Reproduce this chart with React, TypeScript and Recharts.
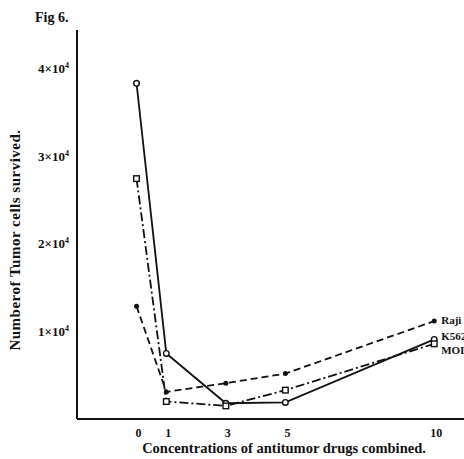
import React from "react";
import { LineChart, Line, XAxis, YAxis, LabelList } from "recharts";

const concentrations = [0, 1, 3, 5, 10];
const raji = [1.29, 0.31, 0.41, 0.52, 1.12];
const k562 = [3.84, 0.75, 0.18, 0.19, 0.91];
const molt4 = [2.75, 0.2, 0.15, 0.33, 0.86];
const xTicks = [0, 1, 3, 5, 10];
const yTicks = [1, 2, 3, 4];
const seriesNames = ["Raji", "K562", "MOLT-4"];

const data = concentrations.map((c, i) => ({ x: c, raji: raji[i], k562: k562[i], molt4: molt4[i] }));

const FONT = "'Liberation Serif', 'DejaVu Serif', serif";
const INK = "#111";

const XTick = (props: any) => {
  const { x, y, payload } = props;
  return (
    <text x={x + 2} y={y + 18} textAnchor="middle" fontFamily={FONT} fontWeight="bold" fontSize={12} fill={INK}>
      {payload.value}
    </text>
  );
};

const YTick = (props: any) => {
  const { x, y, payload } = props;
  return (
    <text x={x - 8} y={y + 4} textAnchor="end" fontFamily={FONT} fontWeight="bold" fontSize={13} fill={INK}>
      {`${payload.value}×10`}
      <tspan fontSize={8} dy={-5}>4</tspan>
    </text>
  );
};

const makeEndLabel = (name: string, dy: number) => (props: any) => {
  const { x, y, index } = props;
  if (index !== concentrations.length - 1) return null;
  return (
    <text x={Number(x) + 7} y={Number(y) + dy} fontFamily={FONT} fontWeight="bold" fontSize={11} fill={INK}>
      {name}
    </text>
  );
};

const FilledDot = (props: any) => {
  const { cx, cy } = props;
  return <circle cx={cx} cy={cy} r={2.5} fill={INK} stroke="none" />;
};
const OpenCircle = (props: any) => {
  const { cx, cy } = props;
  return <circle cx={cx} cy={cy} r={2.8} fill="#fff" stroke={INK} strokeWidth={1.4} />;
};
const OpenSquare = (props: any) => {
  const { cx, cy } = props;
  return <rect x={cx - 2.8} y={cy - 2.8} width={5.6} height={5.6} fill="#fff" stroke={INK} strokeWidth={1.4} />;
};

export default function App() {
  return (
    <div style={{ position: "absolute", left: 0, top: 0, width: 464, height: 459, background: "#fff" }}>
      <LineChart width={464} height={459} data={data} margin={{ top: 30, right: 0, bottom: 0, left: 0 }}>
        <XAxis
          dataKey="x"
          type="number"
          domain={[-2, 11]}
          ticks={xTicks}
          allowDataOverflow
          height={40}
          tickSize={0}
          tickMargin={0}
          tick={<XTick />}
          axisLine={{ stroke: INK, strokeWidth: 2 }}
          tickLine={false}
        />
        <YAxis
          type="number"
          domain={[0, 4.45]}
          ticks={yTicks}
          allowDataOverflow
          width={77}
          tickSize={0}
          tickMargin={0}
          tick={<YTick />}
          axisLine={{ stroke: INK, strokeWidth: 2 }}
          tickLine={false}
        />
        <Line
          dataKey="raji"
          type="linear"
          stroke={INK}
          strokeWidth={1.8}
          strokeDasharray="7 4"
          dot={<FilledDot />}
          isAnimationActive={false}
        >
          <LabelList dataKey="raji" content={makeEndLabel(seriesNames[0], 3)} />
        </Line>
        <Line
          dataKey="k562"
          type="linear"
          stroke={INK}
          strokeWidth={1.8}
          dot={<OpenCircle />}
          isAnimationActive={false}
        >
          <LabelList dataKey="k562" content={makeEndLabel(seriesNames[1], 1)} />
        </Line>
        <Line
          dataKey="molt4"
          type="linear"
          stroke={INK}
          strokeWidth={1.8}
          strokeDasharray="9 3 2 3"
          dot={<OpenSquare />}
          isAnimationActive={false}
        >
          <LabelList dataKey="molt4" content={makeEndLabel(seriesNames[2], 10)} />
        </Line>
        <text x={35} y={22} fontFamily={FONT} fontWeight="bold" fontSize={14} fill={INK}>Fig 6.</text>
        <text
          x={20}
          y={240}
          transform="rotate(-90 20 240)"
          textAnchor="middle"
          fontFamily={FONT}
          fontWeight="bold"
          fontSize={15}
          letterSpacing={0.5}
          fill={INK}
        >
          Numberof Tumor cells survived.
        </text>
        <text x={284} y={453} textAnchor="middle" fontFamily={FONT} fontWeight="bold" fontSize={14.5} fill={INK}>
          Concentrations of antitumor drugs combined.
        </text>
      </LineChart>
    </div>
  );
}
